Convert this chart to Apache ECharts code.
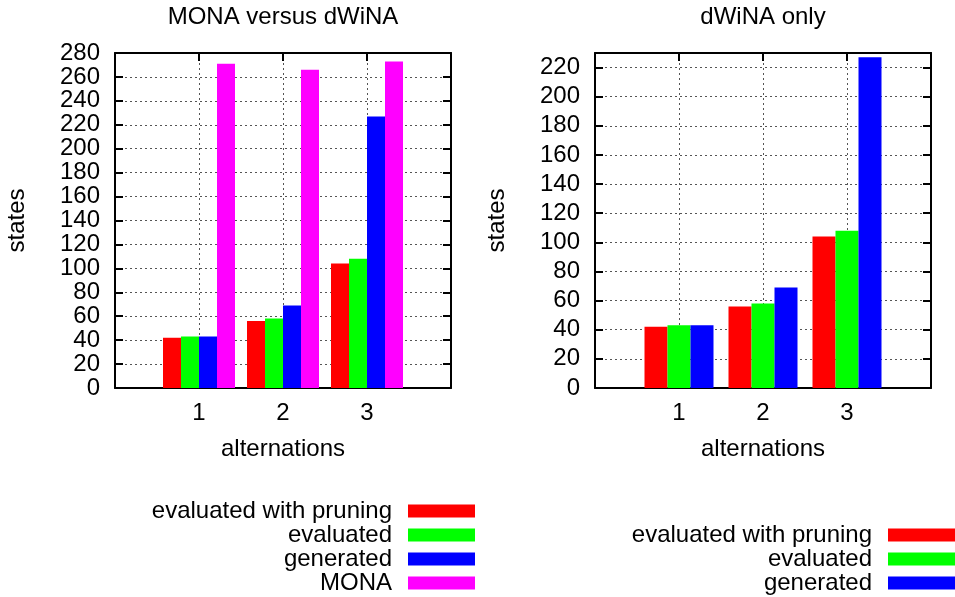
<!DOCTYPE html>
<html><head><meta charset="utf-8">
<script src="https://cdn.jsdelivr.net/npm/echarts@6/dist/echarts.min.js"></script>
<style>html,body{margin:0;padding:0;background:#fff}#c{width:955px;height:597px}</style>
</head><body><div id="c"></div>
<script>
// ---- data ----
const categories = [1, 2, 3];
const xTickLabels = ['1', '2', '3'];
const leftTitle = 'MONA versus dWiNA';
const rightTitle = 'dWiNA only';
const leftSeriesNames = ['evaluated with pruning', 'evaluated', 'generated', 'MONA'];
const rightSeriesNames = ['evaluated with pruning', 'evaluated', 'generated'];
const monaPruned = [42, 56, 104];
const monaEvaluated = [43, 58, 108];
const monaGenerated = [43, 69, 227];
const monaMona = [271, 266, 273];
const dwinaPruned = [42, 56, 104];
const dwinaEvaluated = [43, 58, 108];
const dwinaGenerated = [43, 69, 227];
const leftYMax = 280;
const rightYMax = 230;
const yInterval = 20;
const colors = ['#ff0000', '#00ff00', '#0000ff', '#ff00ff'];

// ---- chart ----
const FONT = '"Liberation Sans", Arial, Helvetica, sans-serif';
const FS = 24;
const PLOT = 336;
const chart = echarts.init(document.getElementById('c'), null, {renderer: 'canvas'});
const lineStyle = {color: '#000', width: 2};
const gridLine = {show: true, lineStyle: {color: '#555', width: 1, type: [2, 3]}};
const tickFmt = v => { const i = categories.indexOf(v); return i >= 0 ? xTickLabels[i] : ''; };
const innerTick = {show: true, inside: true, length: 8, lineStyle: {color: '#000', width: 2}};

function xAxes(g, title) {
  const base = {type: 'value', min: 0, max: 4, interval: 1, gridIndex: g};
  return [
    Object.assign({}, base, {
      position: 'bottom',
      axisLine: {show: true, onZero: false, lineStyle}, axisTick: innerTick,
      axisLabel: {formatter: tickFmt, fontSize: FS, fontFamily: FONT, color: '#000', margin: 13},
      splitLine: gridLine,
      name: 'alternations', nameLocation: 'middle', nameGap: 49,
      nameTextStyle: {fontSize: FS, fontFamily: FONT, color: '#000'}
    }),
    Object.assign({}, base, {
      position: 'top',
      axisLine: {show: true, onZero: false, lineStyle}, axisTick: innerTick,
      axisLabel: {show: false}, splitLine: {show: false},
      name: title, nameLocation: 'middle', nameGap: 24,
      nameTextStyle: {fontSize: FS, fontFamily: FONT, color: '#000'}
    })
  ];
}
function yAxes(g, max) {
  const base = {type: 'value', min: 0, max, interval: yInterval, gridIndex: g};
  return [
    Object.assign({}, base, {
      position: 'left',
      axisLine: {show: true, onZero: false, lineStyle}, axisTick: innerTick,
      axisLabel: {fontSize: FS, fontFamily: FONT, color: '#000', margin: 15, showMaxLabel: max % yInterval === 0},
      splitLine: gridLine,
      name: 'states', nameLocation: 'middle', nameGap: 86, nameRotate: 90,
      nameTextStyle: {fontSize: FS, fontFamily: FONT, color: '#000'}
    }),
    Object.assign({}, base, {
      position: 'right',
      axisLine: {show: true, onZero: false, lineStyle}, axisTick: innerTick,
      axisLabel: {show: false}, splitLine: {show: false}
    })
  ];
}
function bar(name, values, color, ai, w) {
  return {
    type: 'bar', name, xAxisIndex: ai, yAxisIndex: ai, barWidth: w, barGap: '0%',
    itemStyle: {color}, silent: true,
    data: categories.map((c, i) => [c, values[i]])
  };
}
const legendBase = {
  orient: 'vertical', align: 'right', itemWidth: 67, itemHeight: 13, itemGap: 0,
  icon: 'rect', padding: 0, selectedMode: false,
  textStyle: {fontSize: FS, fontFamily: FONT, color: '#000', lineHeight: 24, padding: [0, 11, 0, 0]}
};

chart.setOption({
  animation: false,
  backgroundColor: '#fff',
  grid: [
    {left: 115, top: 52, width: PLOT, height: PLOT},
    {left: 595, top: 52, width: PLOT, height: PLOT}
  ],
  xAxis: [...xAxes(0, leftTitle), ...xAxes(1, rightTitle)],
  yAxis: [...yAxes(0, leftYMax), ...yAxes(1, rightYMax)],
  legend: [
    Object.assign({}, legendBase, {right: 480, top: 499, data: leftSeriesNames}),
    Object.assign({}, legendBase, {right: 0, top: 523, data: rightSeriesNames})
  ],
  series: [
    bar(leftSeriesNames[0], monaPruned, colors[0], 0, 18),
    bar(leftSeriesNames[1], monaEvaluated, colors[1], 0, 18),
    bar(leftSeriesNames[2], monaGenerated, colors[2], 0, 18),
    bar(leftSeriesNames[3], monaMona, colors[3], 0, 18),
    bar(rightSeriesNames[0], dwinaPruned, colors[0], 2, 23),
    bar(rightSeriesNames[1], dwinaEvaluated, colors[1], 2, 23),
    bar(rightSeriesNames[2], dwinaGenerated, colors[2], 2, 23)
  ]
});
</script></body></html>
